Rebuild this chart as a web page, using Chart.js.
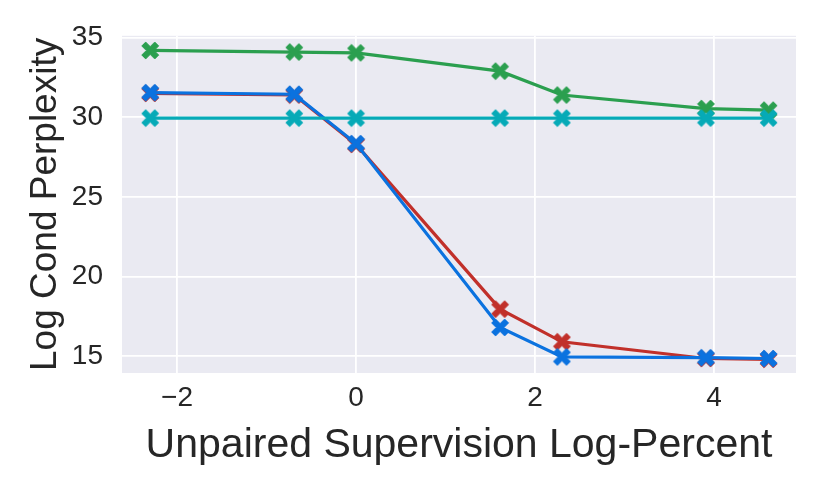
<!DOCTYPE html>
<html>
<head>
<meta charset="utf-8">
<script src="https://cdn.jsdelivr.net/npm/chart.js@4/dist/chart.umd.min.js"></script>
<style>
  html, body { margin: 0; padding: 0; background: #ffffff; }
  #wrap { width: 830px; height: 498px; }
</style>
</head>
<body>
<div id="wrap"><canvas id="perplexityChart" width="830" height="498"></canvas></div>
<script>
// x = log of unpaired supervision percent
const logPercent = [-2.30, -0.69, 0.0, 1.61, 2.30, 3.91, 4.61];
const greenSeries = [34.2, 34.1, 34.05, 32.9, 31.4, 30.55, 30.45];
const cyanSeries = [29.95, 29.95, 29.95, 29.95, 29.95, 29.95, 29.95];
const redSeries = [31.5, 31.4, 28.3, 17.95, 15.9, 14.85, 14.8];
const blueSeries = [31.55, 31.45, 28.35, 16.8, 14.95, 14.9, 14.85];
const xTicks = [-2, 0, 2, 4];
const yTicks = [15, 20, 25, 30, 35];

const FONT = '"Liberation Sans", Arial, sans-serif';

// filled "X" marker like matplotlib's
function makeXMarker(color) {
    const s = 19;
    const c = document.createElement('canvas');
    c.width = s; c.height = s;
    const g = c.getContext('2d');
    g.translate(s / 2, s / 2);
    g.fillStyle = color;
    g.strokeStyle = color;
    g.lineWidth = 1;
    g.beginPath();
    const a = 3.8, b = 8.4;
    const pts = [[-b + a, -b], [0, -a], [b - a, -b], [b, -b + a], [a, 0], [b, b - a],
                 [b - a, b], [0, a], [-b + a, b], [-b, b - a], [-a, 0], [-b, -b + a]];
    pts.forEach((p, i) => i ? g.lineTo(p[0], p[1]) : g.moveTo(p[0], p[1]));
    g.closePath();
    g.fill();
    g.stroke();
    return c;
}

function series(data, color, order) {
    return {
        data: logPercent.map((x, i) => ({ x: x, y: data[i] })),
        borderColor: color,
        backgroundColor: color,
        borderWidth: 3.2,
        pointStyle: makeXMarker(color),
        pointRadius: 9,
        tension: 0,
        order: order
    };
}

const plotBackground = {
    id: 'plotBackground',
    beforeDraw(chart) {
        const a = chart.chartArea;
        const ctx = chart.ctx;
        ctx.save();
        ctx.fillStyle = '#eaeaf2';
        ctx.fillRect(a.left, a.top, a.right - a.left, a.bottom - a.top);
        ctx.restore();
    }
};

new Chart(document.getElementById('perplexityChart').getContext('2d'), {
    type: 'line',
    data: {
        datasets: [
            series(greenSeries, '#2b9f4f', 4),
            series(redSeries, '#c1302a', 3),
            series(blueSeries, '#0b72df', 2),
            series(cyanSeries, '#06aab7', 1)
        ]
    },
    options: {
        responsive: false,
        animation: false,
        layout: { padding: { left: 24, right: 34, top: 34, bottom: 28 } },
        plugins: {
            legend: { display: false },
            tooltip: { enabled: false }
        },
        scales: {
            x: {
                type: 'linear',
                min: -2.615,
                max: 4.916,
                afterBuildTicks: scale => { scale.ticks = xTicks.map(v => ({ value: v })); },
                afterFit: scale => { scale.height = 97; },
                border: { display: false },
                grid: { color: '#ffffff', lineWidth: 1.8, drawTicks: false },
                ticks: {
                    color: '#262626',
                    padding: 8,
                    font: { family: FONT, size: 28 },
                    callback: v => (v < 0 ? '\u2212' + Math.abs(v) : String(v))
                },
                title: {
                    display: true,
                    text: 'Unpaired Supervision Log-Percent',
                    color: '#262626',
                    font: { family: FONT, size: 41 },
                    padding: 0
                }
            },
            y: {
                min: 13.94,
                max: 35.12,
                afterBuildTicks: scale => { scale.ticks = yTicks.map(v => ({ value: v })); },
                afterFit: scale => { scale.width = 98; },
                border: { display: false },
                grid: { color: '#ffffff', lineWidth: 1.8, drawTicks: false },
                ticks: {
                    color: '#262626',
                    padding: 19,
                    font: { family: FONT, size: 28 }
                },
                title: {
                    display: true,
                    text: 'Log Cond Perplexity',
                    color: '#262626',
                    font: { family: FONT, size: 37 },
                    padding: 0
                }
            }
        }
    },
    plugins: [plotBackground]
});
</script>
</body>
</html>
